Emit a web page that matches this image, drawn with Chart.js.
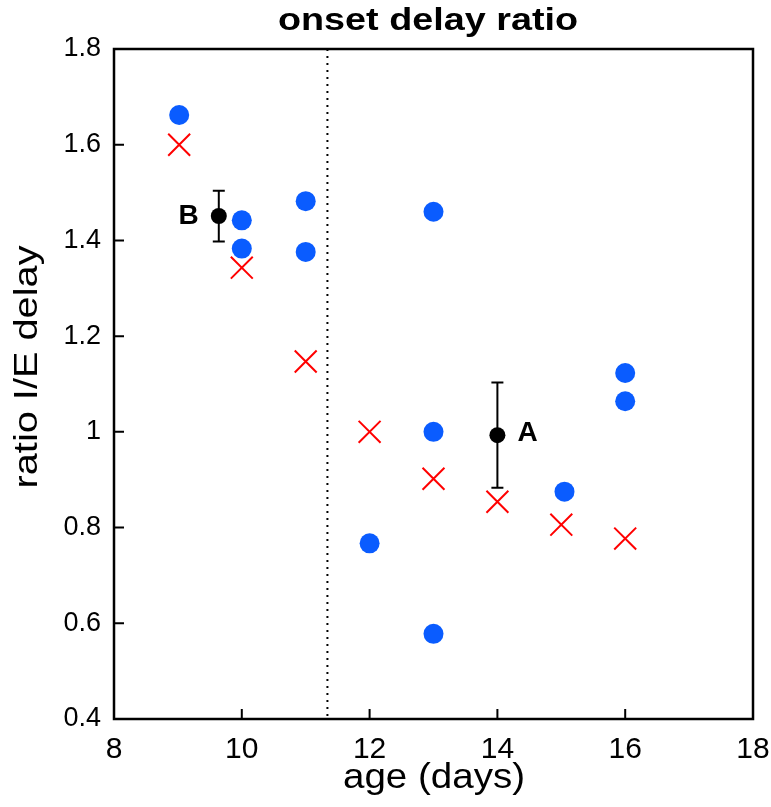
<!DOCTYPE html>
<html>
<head>
<meta charset="utf-8">
<script src="https://cdn.jsdelivr.net/npm/chart.js@4"></script>
<style>
  html, body { margin: 0; padding: 0; background: #fff; }
  #wrap { width: 771px; height: 807px; }
</style>
</head>
<body>
<div id="wrap"><canvas id="ratioChart"></canvas></div>
<script>
// cells (blue dots)
const cellAge = [9.02, 10, 10, 11, 11, 12, 13, 13, 13, 15.05, 16, 16];
const cellRatio = [1.662, 1.442, 1.383, 1.482, 1.376, 0.767, 1.46, 1.0, 0.578, 0.875, 1.123, 1.064];

// crosses (red)
const crossAge = [9.02, 10, 11, 12, 13, 14, 15, 16];
const crossRatio = [1.6, 1.343, 1.147, 1.0, 0.902, 0.854, 0.806, 0.777];

// group means with error bars
const meanLabels = ['B', 'A'];
const meanAge = [9.64, 14];
const meanRatio = [1.451, 0.993];
const meanErr = [0.053, 0.11];

const xTicks = [8, 10, 12, 14, 16, 18];
const yTicks = [0.4, 0.6, 0.8, 1, 1.2, 1.4, 1.6, 1.8];
const cutoffAge = 11.34;

const SANS = '"Liberation Sans", Arimo, Arial, Helvetica, sans-serif';

const toPts = (xs, ys) => xs.map((x, i) => ({ x: x, y: ys[i] }));

// draw text stretched/squeezed to a given width
function fitText(ctx, text, cx, cy, width, font, angle) {
    ctx.save();
    ctx.font = font;
    ctx.textAlign = 'center';
    ctx.textBaseline = 'middle';
    const sx = width / ctx.measureText(text).width;
    ctx.translate(cx, cy);
    if (angle) ctx.rotate(angle);
    ctx.scale(sx, 1);
    ctx.fillText(text, 0, 0);
    ctx.restore();
}

const decorPlugin = {
    id: 'decor',
    beforeDatasetsDraw(chart) {
        const { ctx, chartArea: a, scales: { x, y } } = chart;
        ctx.save();
        // dotted cutoff line
        ctx.strokeStyle = '#000';
        ctx.lineWidth = 2;
        ctx.setLineDash([2, 5]);
        const cx = x.getPixelForValue(cutoffAge);
        ctx.beginPath();
        ctx.moveTo(cx, a.top);
        ctx.lineTo(cx, a.bottom);
        ctx.stroke();
        ctx.setLineDash([]);
        // error bars
        ctx.lineWidth = 2;
        meanAge.forEach((age, i) => {
            const px = x.getPixelForValue(age);
            const hi = y.getPixelForValue(meanRatio[i] + meanErr[i]);
            const lo = y.getPixelForValue(meanRatio[i] - meanErr[i]);
            ctx.beginPath();
            ctx.moveTo(px, hi); ctx.lineTo(px, lo);
            ctx.moveTo(px - 6, hi); ctx.lineTo(px + 6, hi);
            ctx.moveTo(px - 6, lo); ctx.lineTo(px + 6, lo);
            ctx.stroke();
        });
        ctx.restore();
    },
    afterDraw(chart) {
        const { ctx, chartArea: a, scales: { x, y } } = chart;
        ctx.save();
        // box
        ctx.strokeStyle = '#000';
        ctx.lineWidth = 2.5;
        ctx.strokeRect(a.left, a.top, a.right - a.left, a.bottom - a.top);
        // inward ticks
        ctx.lineWidth = 2;
        ctx.beginPath();
        xTicks.forEach(v => {
            const px = x.getPixelForValue(v);
            ctx.moveTo(px, a.bottom); ctx.lineTo(px, a.bottom - 10);
        });
        yTicks.forEach(v => {
            const py = y.getPixelForValue(v);
            ctx.moveTo(a.left, py); ctx.lineTo(a.left + 10, py);
        });
        ctx.stroke();
        ctx.restore();

        ctx.save();
        ctx.fillStyle = '#000';
        // labels for means
        ctx.font = 'bold 28px ' + SANS;
        ctx.textBaseline = 'middle';
        ctx.textAlign = 'right';
        ctx.fillText(meanLabels[0], x.getPixelForValue(meanAge[0]) - 20, y.getPixelForValue(meanRatio[0]));
        ctx.textAlign = 'left';
        ctx.fillText(meanLabels[1], x.getPixelForValue(meanAge[1]) + 20, y.getPixelForValue(meanRatio[1]) - 2);
        // title and axis titles
        fitText(ctx, 'onset delay ratio', 428, 21, 300, 'bold 32px ' + SANS);
        fitText(ctx, 'age (days)', 434, 778, 182, '35px ' + SANS);
        fitText(ctx, 'ratio I/E delay', 28, 367, 243, '33px ' + SANS, -Math.PI / 2);
        ctx.restore();
    }
};

document.addEventListener('DOMContentLoaded', () => {
    const canvas = document.getElementById('ratioChart');
    const ctx = canvas.getContext('2d');

    new Chart(ctx, {
        type: 'scatter',
        data: {
            datasets: [{
                label: 'cells',
                data: toPts(cellAge, cellRatio),
                pointStyle: 'circle',
                pointRadius: 10,
                backgroundColor: '#0a5cff',
                borderColor: '#0a5cff',
                borderWidth: 0
            }, {
                label: 'crosses',
                data: toPts(crossAge, crossRatio),
                pointStyle: 'crossRot',
                pointRadius: 15.5,
                borderColor: '#ff0000',
                borderWidth: 2
            }, {
                label: 'means',
                data: toPts(meanAge, meanRatio),
                pointStyle: 'circle',
                pointRadius: 8,
                backgroundColor: '#000',
                borderColor: '#000',
                borderWidth: 0
            }]
        },
        options: {
            responsive: true,
            maintainAspectRatio: false,
            animation: false,
            layout: { padding: { top: 49, right: 18, left: 0, bottom: 0 } },
            plugins: {
                legend: { display: false },
                tooltip: { enabled: false }
            },
            scales: {
                x: {
                    type: 'linear',
                    min: 8,
                    max: 18,
                    afterFit: s => { s.height = 88; s.paddingLeft = 0; s.paddingRight = 0; },
                    afterBuildTicks: s => { s.ticks = xTicks.map(v => ({ value: v })); },
                    grid: { display: false, drawTicks: false },
                    border: { display: false },
                    ticks: {
                        padding: 13,
                        color: '#000',
                        font: { family: SANS, size: 30 }
                    }
                },
                y: {
                    min: 0.4,
                    max: 1.8,
                    afterFit: s => { s.width = 114; s.paddingTop = 0; s.paddingBottom = 0; },
                    afterBuildTicks: s => { s.ticks = yTicks.map(v => ({ value: v })); },
                    grid: { display: false, drawTicks: false },
                    border: { display: false },
                    ticks: {
                        padding: 13,
                        color: '#000',
                        font: { family: SANS, size: 27 },
                        callback: v => String(v)
                    }
                }
            }
        },
        plugins: [decorPlugin]
    });
});
</script>
</body>
</html>
